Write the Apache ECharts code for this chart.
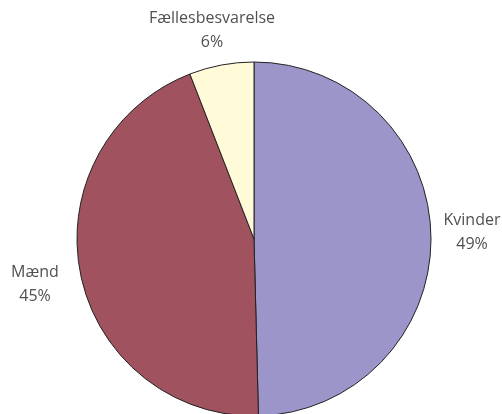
<!DOCTYPE html>
<html>
<head>
<meta charset="utf-8">
<script src="https://cdn.jsdelivr.net/npm/echarts@6/dist/echarts.min.js"></script>
<style>
  html, body { margin: 0; padding: 0; background: #fff; }
  #chart { width: 502px; height: 414px; }
</style>
</head>
<body>
<div id="chart"></div>
<script>
// slices, clockwise from 12 o'clock
const categories = ['Kvinder', 'Mænd', 'Fællesbesvarelse']
const shares = [49.6, 44.5, 5.9]
const pctLabels = ['49%', '45%', '6%']
const colors = ['#9b95c9', '#a0525e', '#fffad8']

// label centres (px), same order as categories
const labelPos = [[472, 232], [35, 284], [212, 30]]

const chart = echarts.init(document.getElementById('chart'))

chart.setOption({
  backgroundColor: '#fff',
  animation: false,
  series: [{
    type: 'pie',
    center: [254, 239],
    radius: 177,
    startAngle: 90,
    clockwise: true,
    avoidLabelOverlap: false,
    itemStyle: { borderColor: '#222', borderWidth: 1 },
    label: {
      show: true,
      position: 'outside',
      fontFamily: 'Open Sans',
      fontSize: 16,
      color: '#505050',
      lineHeight: 24,
      align: 'center',
      formatter: p => p.name + '\n' + pctLabels[p.dataIndex]
    },
    labelLine: { show: false, length: 10, length2: 0 },
    labelLayout: p => ({
      x: labelPos[p.dataIndex][0],
      y: labelPos[p.dataIndex][1],
      align: 'center',
      verticalAlign: 'middle'
    }),
    data: categories.map((name, i) => ({
      name,
      value: shares[i],
      itemStyle: { color: colors[i] }
    }))
  }]
})
</script>
</body>
</html>
